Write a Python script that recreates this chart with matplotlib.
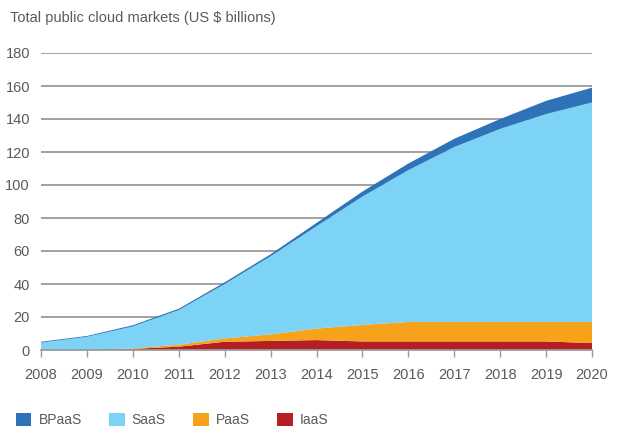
import matplotlib.pyplot as plt
import numpy as np
from matplotlib.patches import Patch

plt.rcParams['font.family'] = ['Liberation Sans', 'DejaVu Sans']

years = np.arange(2008, 2021)
iaas = [0, 0, 0.7, 2, 5, 5.5, 6, 5.2, 5.2, 5.2, 5.2, 5.2, 4.2]
paas = [0, 0, 0.3, 1.2, 2, 4, 7, 10, 11.8, 11.8, 11.8, 11.8, 12.8]
saas = [4.5, 8, 13.3, 21, 33, 47.3, 62, 77.8, 92, 106, 117, 126, 133]
bpaas = [0.5, 0.5, 0.7, 0.8, 1, 1.2, 2, 3, 4, 5, 6, 8, 9]
yticks = [0, 20, 40, 60, 80, 100, 120, 140, 160, 180]

colors = {'BPaaS': '#2e73b8', 'SaaS': '#7dd3f5', 'PaaS': '#f6a31b', 'IaaS': '#b51f24'}
grey = '#9a9a9a'
txt = '#5a5a5a'

fig = plt.figure(figsize=(6.17, 4.33), dpi=100)
ax = fig.add_axes([41/617, 83/433, 551/617, 297/433])

ax.stackplot(years, iaas, paas, saas, bpaas,
             colors=[colors['IaaS'], colors['PaaS'], colors['SaaS'], colors['BPaaS']],
             linewidth=0, zorder=3)

ax.set_xlim(2008, 2020)
ax.set_ylim(0, 180)
ax.set_yticks(yticks)
ax.set_xticks(years)
ax.yaxis.grid(True, color=grey, linewidth=1.3, zorder=0)
ax.set_axisbelow(True)
for s in ['top', 'right', 'left']:
    ax.spines[s].set_visible(False)
ax.spines['bottom'].set_color(grey)
ax.spines['bottom'].set_linewidth(1.3)
ax.spines['bottom'].set_zorder(4)
ax.tick_params(axis='y', length=0, pad=8, labelsize=10.5, labelcolor=txt)
ax.tick_params(axis='x', length=5, color=grey, width=1, pad=8, labelsize=10.5, labelcolor=txt)

fig.text(10/617, 1 - 18/433, 'Total public cloud markets (US $ billions)',
         fontsize=10.5, color=txt, va='center', ha='left')

handles = [Patch(facecolor=colors[k], edgecolor='none', label=k)
           for k in ['BPaaS', 'SaaS', 'PaaS', 'IaaS']]
leg = fig.legend(handles=handles, loc='center left', bbox_to_anchor=(3/617, 1 - 420/433),
                 ncol=4, frameon=False, fontsize=10, handlelength=1.15, handleheight=1.15,
                 handletextpad=0.5, columnspacing=1.95)
for t in leg.get_texts():
    t.set_color(txt)

fig.savefig('out.png', dpi=100)
